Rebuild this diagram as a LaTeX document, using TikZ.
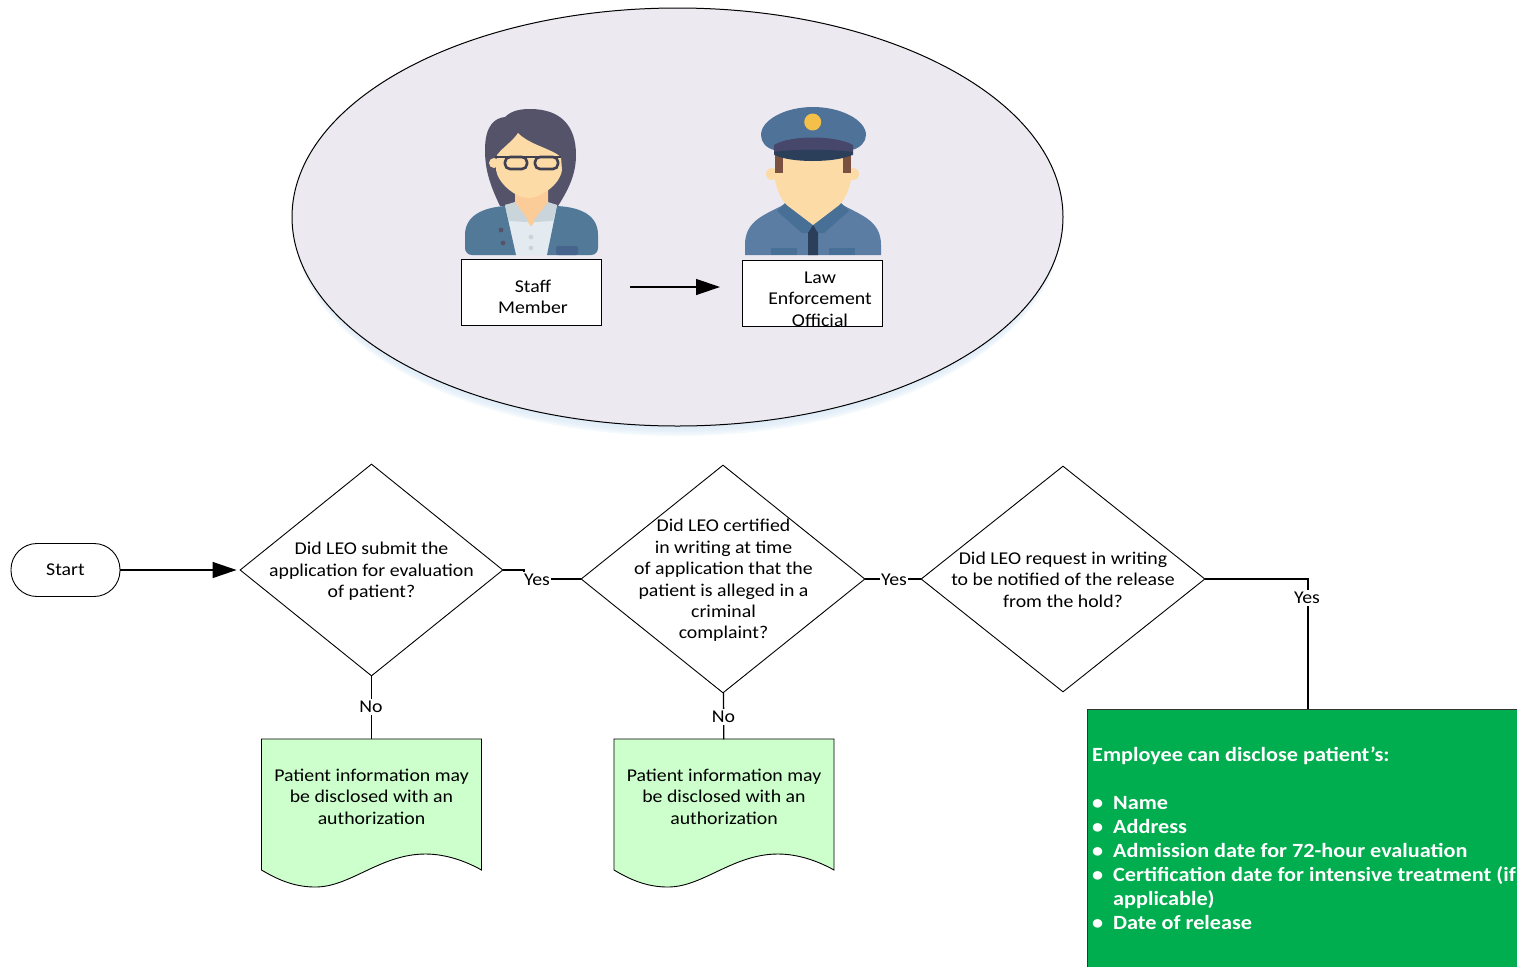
\documentclass[tikz,border=0pt]{standalone}
\usepackage{fontspec}
\setmainfont{Carlito}[FakeStretch=1.1]
\usepackage{tikz}
\usetikzlibrary{arrows.meta}
\usetikzlibrary{positioning, shapes.geometric}
\definecolor{bubblefill}{HTML}{ECE9F1}
\definecolor{glowblue}{HTML}{D5E6F5}
\definecolor{docgreen}{HTML}{CCFFCC}
\definecolor{discloseg}{HTML}{00AE4F}
\definecolor{hairdark}{HTML}{54536A}
\definecolor{glassframe}{HTML}{3F4152}
\definecolor{skin}{HTML}{FDDBA6}
\definecolor{neckskin}{HTML}{FBCB98}
\definecolor{jacket}{HTML}{527A98}
\definecolor{shirt}{HTML}{E3EBF1}
\definecolor{collargray}{HTML}{C9D5DA}
\definecolor{pocketblue}{HTML}{47658C}
\definecolor{capblue}{HTML}{4F7298}
\definecolor{capband}{HTML}{46476A}
\definecolor{visor}{HTML}{2B3F5B}
\definecolor{badge}{HTML}{F5C04A}
\definecolor{brownhair}{HTML}{7A5040}
\definecolor{uniform}{HTML}{5C7DA3}
\definecolor{uniformdark}{HTML}{486F95}
\tikzset{
  flowfont/.style={font=\fontsize{18}{21.4}\selectfont},
  decision/.style={draw=black,diamond,inner sep=0pt,line width=0.9pt},
  flowtext/.style={flowfont,align=center,inner sep=0pt},
  flow/.style={draw=black,line width=1.3pt},
  answer/.style={flowfont,fill=white,inner xsep=1pt,inner ysep=2.5pt},
  rolebox/.style={draw=black,fill=white,line width=1.6pt,minimum width=140pt,minimum height=66pt},
  bigtip/.style={-{Triangle[length=24pt,width=16pt]}},
  docpage/.pic={
    \draw[black,line width=0.9pt,fill=docgreen] (-110,0) -- (110,0) -- (110,131)
      .. controls (94,122) and (74,115) .. (54,115)
      .. controls (9,115) and (-21,148) .. (-56,148)
      .. controls (-74,148) and (-90,143) .. (-110,131) -- cycle;
  }
}
\newcommand{\bulletline}{\makebox[21pt][l]{\textbullet}}
\begin{document}
\begin{tikzpicture}[x=1pt,y=-1pt]
\useasboundingbox (0,0) rectangle (1517,967);
\foreach \s in {10,8,6,4,2}
  \fill[glowblue,opacity=0.25] (677.5,217+\s) ellipse [x radius=383, y radius=209];
\draw[black,line width=1pt,fill=bubblefill] (677.5,217) ellipse [x radius=385.5, y radius=209];
% staff member
\fill[hairdark] (500,206) .. controls (490,185) and (485,170) .. (485,150) .. controls (485,125) and (495,118) .. (505,117) .. controls (512,110) and (522,109) .. (530,109) .. controls (560,109) and (576,125) .. (576,155) .. controls (576,175) and (568,190) .. (558,206) -- cycle;
\fill[neckskin] (515,185) -- (548,185) -- (548,204) -- (531,227) -- (515,204) -- cycle;
\fill[skin] (497,155) .. controls (503,147) and (512,142) .. (518,133) .. controls (530,145) and (550,148) .. (561,157) -- (562,170) .. controls (560,185) and (540,198) .. (529,198) .. controls (515,198) and (498,183) .. (496,170) -- cycle;
\fill[skin] (494,163) circle (5);
\fill[shirt] (505,205) -- (515,203) -- (531,227) -- (548,203) -- (557,205) -- (547,255) -- (516,255) -- cycle;
\fill[collargray] (505,205) -- (515,202) -- (531,216) -- (527,222) -- (509,221) -- cycle;
\fill[collargray] (557,205) -- (548,202) -- (531,216) -- (535,222) -- (553,221) -- cycle;
\fill[neckskin] (515,202) -- (548,202) -- (531,224) -- cycle;
\fill[jacket] (516,255) -- (505,206) .. controls (490,207) and (465,212) .. (465,235) -- (465,248) .. controls (465,252) and (468,255) .. (472,255) -- cycle;
\fill[jacket] (547,255) -- (557,206) .. controls (575,207) and (598,212) .. (598,235) -- (598,248) .. controls (598,252) and (595,255) .. (591,255) -- cycle;
\fill[pocketblue,rounded corners=2pt] (556,246) rectangle (578,255);
\fill[hairdark] (501,230) circle (2.4);
\fill[hairdark] (503,243) circle (2.4);
\fill[collargray] (531,237) circle (2.4);
\fill[collargray] (531,248) circle (2.4);
\draw[glassframe,line width=2.6pt,rounded corners=5pt] (505,157) -- (505,169) -- (527,169) -- (527,157) -- cycle;
\draw[glassframe,line width=2.6pt,rounded corners=5pt] (535,157) -- (535,169) -- (558,169) -- (558,157) -- cycle;
\draw[glassframe,line width=2.2pt] (495,157) -- (561,157);
% officer
\fill[uniform] (745,255) -- (745,245) .. controls (745,220) and (765,215) .. (785,204) -- (841,204) .. controls (860,215) and (881,220) .. (881,245) -- (881,255) -- cycle;
\fill[uniformdark] (771,248) rectangle (797,255);
\fill[uniformdark] (829,248) rectangle (855,255);
\fill[uniformdark] (785,203) -- (841,203) -- (849,211) -- (824,233) -- (802,233) -- (777,211) -- cycle;
\fill[skin] (772,174) circle (6);
\fill[skin] (853,174) circle (6);
\fill[skin] (775,155) -- (851,155) -- (851,180) .. controls (848,195) and (842,203) .. (838,206) -- (813,225) -- (788,206) .. controls (784,203) and (778,195) .. (775,180) -- cycle;
\fill[brownhair] (775,155) rectangle (783,173);
\fill[brownhair] (843,155) rectangle (851,173);
\fill[visor] (808,233) -- (813,225) -- (818,233) -- (818,255) -- (808,255) -- cycle;
\fill[capblue] (761,135) .. controls (761,120) and (785,107) .. (813,107) .. controls (841,107) and (866,120) .. (866,135) .. controls (866,142) and (860,148) .. (852,150) -- (774,150) .. controls (766,148) and (761,142) .. (761,135);
\fill[capband] (774,145) .. controls (790,135) and (835,135) .. (853,145) -- (853,155) -- (774,155) -- cycle;
\fill[visor] (774,152) .. controls (790,149) and (835,149) .. (853,152) -- (852,155) .. controls (835,163) and (790,163) .. (775,155) -- cycle;
\fill[badge] (812.7,122) circle (8.5);
% role boxes
\node[rolebox] (staffbox) at (531.5,292.5) {};
\node[rolebox] (officerbox) at (812.5,293.5) {};
\node[flowtext] (stafflabel) at (533,297) {Staff\\Member};
\node[flowtext] (officerlabel) at (820,299) {Law\\Enforcement\\Official};
\coordinate (handfrom) at (630,287);
\coordinate (handto) at (720,287);
\draw[flow,bigtip] (handfrom) -- (handto);
% flow chart
\node[draw=black,line width=0.9pt,minimum width=109pt,minimum height=53pt,rounded corners=26pt,flowfont] (start) at (65.5,570) {\raisebox{-1pt}{Start}};
\node[decision,minimum width=263pt,minimum height=212pt] (evaluate) at (371.5,570) {};
\node[decision,minimum width=284pt,minimum height=228pt] (certified) at (723,579) {};
\node[decision,minimum width=284pt,minimum height=226pt] (hold) at (1063,579) {};
\node[flowtext] (evaluatetext) at (371.5,571.5) {Did LEO submit the\\application for evaluation\\of patient?};
\node[flowtext] (certifiedtext) at (723.5,580.5) {Did LEO certified\\in writing at time\\of application that the\\patient is alleged in a\\criminal\\complaint?};
\node[flowtext] (holdtext) at (1063,579.5) {Did LEO request in writing\\to be notified of the release\\from the hold?};
\pic at (371.5,739) {docpage};
\pic at (724,739) {docpage};
\node[flowtext,minimum width=220pt,minimum height=114pt] (doca) at (371.5,796.5) {Patient information may\\be disclosed with an\\authorization};
\node[flowtext,minimum width=220pt,minimum height=114pt] (docb) at (724,796.5) {Patient information may\\be disclosed with an\\authorization};
\node[fill=discloseg,minimum width=430pt,minimum height=258pt,inner sep=0pt,anchor=north west] (disclose) at (1087,709) {};
\draw[black!80,line width=1pt] (disclose.south west) -- (disclose.north west) -- (disclose.north east);
\node[anchor=north west,align=left,text=white,inner sep=0pt,font=\bfseries\fontsize{20.2}{24}\selectfont] (disclosetext) at (1092,747) {Employee can disclose patient’s:\\ \mbox{}\\ \bulletline Name\\ \bulletline Address\\ \bulletline Admission date for 72-hour evaluation\\ \bulletline Certification date for intensive treatment (if\\ \hspace*{21pt}applicable)\\ \bulletline Date of release};
\coordinate (bendyes) at (524,570);
\coordinate (dropyes) at (1308,709);
\draw[flow,bigtip,shorten >=3pt] (start) -- (evaluate);
\draw[flow] (evaluate.east) -- (bendyes) |- (certified.west);
\draw[flow] (certified.east) -- (hold.west);
\draw[flow] (hold.east) -| (dropyes);
\draw[flow] (evaluate) -- (doca);
\draw[flow] (certified) -- (docb);
\node[answer] (yesa) at (537,580) {Yes};
\node[answer] (yesb) at (894,580) {Yes};
\node[answer] (yesc) at (1307,598) {Yes};
\node[answer] (noa) at (371,707) {No};
\node[answer] (nob) at (723.5,717) {No};
\end{tikzpicture}
\end{document}
